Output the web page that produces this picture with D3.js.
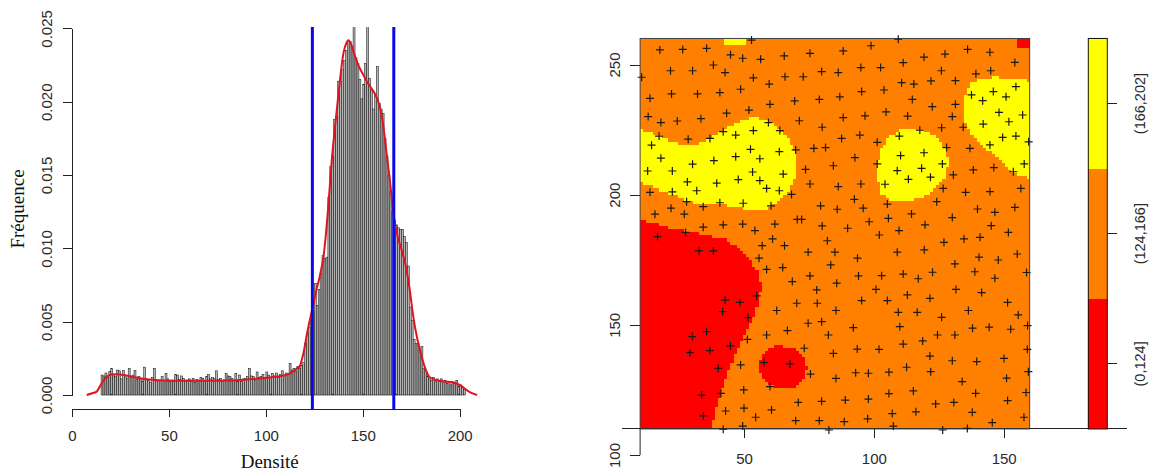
<!DOCTYPE html>
<html><head><meta charset="utf-8">
<script src="https://cdn.jsdelivr.net/npm/d3@7"></script>
<style>
body{margin:0;background:#fff}
svg{display:block}
.tk text{font-family:"Liberation Sans",Arial,sans-serif;font-size:15px;fill:#2a2a2a}
.tk path,.tk line{stroke:#222;stroke-width:1;shape-rendering:crispEdges}
.lg text{font-size:14.5px}
.ttl{font-family:"Liberation Serif","Times New Roman",serif;font-size:19px;fill:#111}
</style>
</head><body>
<svg id="c" width="1153" height="473"></svg>
<script>
// ---------------- data ----------------
const histFirstBin = 15; // left edge of the first bin (bin width 1)
const histFreq = [
.00136,.00130,.00150,.00120,.00160,.00182,.00140,.00125,.00170,.00165,
.00110,.00166,.00136,.00115,.00182,.00120,.00136,.00166,.00105,.00125,
.00110,.00095,.00190,.00110,.00100,.00085,.00120,.00182,.00095,.00100,
.00090,.00125,.00100,.00148,.00110,.00095,.00102,.00091,.00140,.00136,
.00105,.00130,.00114,.00095,.00102,.00110,.00095,.00114,.00085,.00105,
.00100,.00120,.00114,.00095,.00125,.00140,.00110,.00120,.00114,.00165,
.00105,.00114,.00090,.00102,.00148,.00130,.00125,.00114,.00100,.00148,
.00095,.00136,.00091,.00110,.00114,.00125,.00182,.00130,.00125,.00102,
.00157,.00120,.00125,.00140,.00110,.00157,.00136,.00120,.00148,.00130,
.00150,.00120,.00140,.00165,.00130,.00150,.00140,.00216,.00170,.00182,
.00160,.00195,.00180,.00200,.00220,.00350,.00420,.00460,.00530,.00570,
.00760,.00610,.00720,.00830,.00950,.00930,.00940,.01350,.01560,.01630,
.01880,.01900,.02140,.02140,.02220,.02280,.02350,.02420,.02410,.02380,
.02700,.02300,.02260,.02150,.02020,.02120,.02260,.02700,.02160,.02080,
.01950,.02050,.02240,.01990,.01950,.01920,.01750,.01630,.01500,.01390,
.01250,.01190,.01160,.01140,.01130,.01130,.01080,.01040,.00880,.00600,
.00510,.00380,.00350,.00350,.00310,.00330,.00180,.00170,.00130,.00110,
.00100,.00120,.00090,.00110,.00100,.00110,.00090,.00100,.00080,.00090,
.00070,.00090,.00080,.00100,.00060,.00070,.00050,.00040];
const densX = [7.6,10,12.7,15.3,17.9,20.5,23,28,33,38.5,45,50,60,70,76,85,92,102,108,112.5,
116,117.6,119.3,121.4,124,126,128,130,132,134,136,138,140,141.5,142.5,144,146,148,150,152,
154,156,158,160,162,164,166,168,170,172,174,176,178,180,182,184,186,190,194,198,201,204,206,209];
const densY = [0,0.0001,0.00023,0.0008,0.00125,0.0014,0.00141,0.00133,0.0012,0.00107,0.001,0.00098,0.00097,0.00097,0.00098,0.001,0.00107,0.0012,0.0013,0.00148,
0.0018,0.002,0.0028,0.0043,0.0059,0.0071,0.0082,0.0097,0.0125,0.016,0.0187,0.0212,0.0233,0.0240,0.0242,0.0239,0.0231,0.0224,0.0219,0.0214,
0.0210,0.0206,0.0200,0.0189,0.0168,0.0146,0.0122,0.0108,0.0099,0.0089,0.0074,0.0054,0.0039,0.0028,0.0019,0.0013,0.0011,0.00095,0.0009,0.0008,0.0006,0.0003,0.00015,0];
const cutValues = [124, 166];
const histXTicks = [0, 50, 100, 150, 200];
const histYTicks = [0, 0.005, 0.010, 0.015, 0.020, 0.025];
const histYLabels = ["0.000","0.005","0.010","0.015","0.020","0.025"];

const classLabels = ["(0,124]", "(124,166]", "(166,202]"];
const classColors = ["#FF0000", "#FF8000", "#FFFF00"];
const mapXTicks = [50, 100, 150];
const mapYTicks = [100, 150, 200, 250];
const mapExtentX = [10, 160];
const mapExtentY = [110, 260];
const mapCell = 1.2;
const mapAxisLine = [3, 197.4];

const yellowZones = [
 [[10.2,224.8],[16.4,222.9],[24.1,219.7],[33.0,219.7],[42.0,224.2],[47.2,228.0],[53.6,230.0],[58.7,228.7],[65.1,224.2],[69.0,218.4],[70.5,213.3],[69.6,206.9],[67.1,201.8],[62.6,197.3],[58.7,194.1],[52.3,194.1],[42.0,196.0],[33.0,196.0],[27.9,198.0],[21.5,200.5],[10.2,204.4],[9,204.4],[9,224.8]],
 [[42.7,261],[51,261],[51,257.2],[42.7,257.2]],
 [[110.0,224.8],[117.1,225.5],[122.9,222.9],[126.7,219.1],[128.4,213.3],[128.0,207.6],[125.4,203.7],[121.6,200.5],[117.1,198.6],[111.3,197.3],[106.8,197.3],[103.0,200.5],[101.5,205.6],[101.5,212.0],[103.0,217.8],[106.2,222.3]],
 [[139.6,244.3],[146.0,245.1],[153.7,244.7],[161,243.4],[161,206.3],[156.3,206.9],[152.4,209.5],[148.6,212.7],[144.7,216.5],[140.9,219.7],[137.6,222.9],[135.3,227.4],[134.4,232.5],[135.1,238.3],[137.0,242.1]]
];
const redZones = [
 [[9,190.3],[16.3,189.0],[22.8,186.7],[29.2,185.8],[36.9,183.9],[43.3,182.6],[47.8,180.0],[51.6,176.2],[54.9,171.1],[56.4,165.3],[55.9,158.3],[53.6,153.1],[51.0,148.0],[48.4,142.9],[45.9,136.5],[43.3,130.1],[40.7,122.4],[38.8,116.0],[36.9,109.0],[9,109.0]],
 [[55.5,134],[56.5,138],[59,141],[62.5,142],[67,141.6],[71,140],[73.5,137],[74.5,133.5],[73.5,129.5],[71,126.5],[67,125.2],[63,125.5],[59,127],[56.5,130]],
 [[155.5,261],[161,261],[161,257],[155.5,257]]
];

const samplePoints = [
[52.9,259.4],[17.6,255.6],[26.4,255.8],[35.6,256.2],[44.8,253.7],[49.5,252.4],[56.4,252.0],[65.5,253.3],[10.6,245.1],[21.7,247.6],[30.2,247.6],[38.2,249.8],[42.7,246.9],[53.6,244.9],[59.7,242.5],[65.8,245.3],[13.8,237.0],[22.1,238.7],[32.1,238.7],[40.7,239.2],[48.7,240.5],[60.0,234.7],[69.5,236.0],[13.1,230.0],[18.0,227.7],[24.3,228.3],[33.4,229.2],[43.3,231.3],[51.9,232.5],[59.4,227.7],[71.3,228.4],[17.3,222.5],[28.5,221.3],[36.9,221.6],[42.0,224.2],[46.8,222.9],[53.6,224.6],[63.8,224.6],[14.4,219.0],[18.0,214.0],[30.2,211.7],[38.4,213.1],[46.8,214.6],[52.5,217.4],[56.1,213.8],[63.6,216.5],[69.9,217.2],[12.9,209.1],[22.4,209.1],[53.3,208.7],[65.1,207.9],[28.2,204.9],[39.5,204.4],[47.8,205.8],[56.1,205.4],[13.8,200.9],[22.4,201.1],[31.8,201.5],[58.7,202.4],[63.6,201.5],[68.3,200.1],
[27.9,197.3],[34.3,195.4],[40.7,196.9],[49.7,196.7],[60.4,195.7],[15.7,192.5],[21.9,194.8],[27.0,192.5],[34.3,187.5],[42.0,188.4],[49.5,188.7],[54.2,186.2],[61.9,188.7],[70.5,190.5],[16.7,183.9],[27.5,185.5],[57.0,180.4],[61.0,183.0],[65.6,180.4],[32.7,178.4],[38.2,178.4],[55.8,175.6],[58.7,171.3],[64.9,172.0],[68.6,166.6],[54.9,161.1],[42.7,159.5],[48.4,158.6],[70.3,158.3],[41.8,155.1],[51.6,152.8],[62.6,155.5],[35.6,147.4],[66.7,147.8],[30.1,145.5],[58.7,146.1],[51.3,144.4],[29.2,139.3],[36.9,140.1],[44.8,141.9],[40.1,133.3],[48.7,134.6],[57.7,135.5],[67.7,135.0],[60.0,126.3],[49.9,125.0],[33.7,123.0],[41.1,123.7],[70.9,120.2],[42.9,116.9],[50.0,118.0],[60.6,117.3],[34.3,115.0],[54.5,114.5],[69.9,113.2],[42.0,109.9],[49.5,111.1],
[109.4,259.7],[75.4,254.3],[88.2,255.2],[98.9,257.2],[119.3,252.8],[127.4,254.0],[136.1,255.8],[144.7,254.7],[154.3,250.8],[72.8,245.3],[79.9,247.3],[86.3,246.9],[95.0,248.8],[102.6,248.8],[111.3,250.7],[126.0,247.6],[139.3,246.4],[145.0,247.6],[110.7,243.0],[115.4,242.5],[122.0,243.7],[131.4,243.8],[79.0,236.6],[86.9,237.6],[95.3,239.6],[103.9,240.2],[114.8,236.6],[122.5,233.8],[131.4,234.7],[137.6,238.3],[141.9,236.1],[146.0,239.6],[150.9,237.6],[154.7,241.5],[88.2,229.6],[96.6,230.3],[104.7,231.8],[113.0,230.2],[130.2,230.0],[80.1,225.9],[126.1,225.7],[134.4,225.9],[142.1,227.1],[148.2,231.6],[152.0,228.0],[157.3,230.6],[87.6,221.6],[94.6,222.9],[101.3,220.1],[109.8,222.5],[117.7,224.8],[149.6,222.0],[154.7,222.5],[159.6,220.3],[76.9,217.8],[81.4,218.1],[110.3,215.0],[119.3,216.1],[128.0,218.1],[137.0,217.8],[144.7,219.1],[92.7,214.2],[84.4,211.1],[73.7,209.7],[101.3,211.8],[109.0,209.2],[118.4,210.1],[126.4,211.8],[138.3,209.5],[146.2,210.4],[153.7,208.8],[157.9,211.8],[113.3,205.9],[121.8,206.7],[130.6,207.6],[75.4,204.1],[86.3,203.1],[95.0,204.1],[104.3,204.0],[126.7,202.4],[135.3,200.9],[144.7,201.2],[156.6,202.4],[92.5,198.2],
[79.5,195.7],[85.9,194.4],[95.9,194.8],[105.2,196.4],[114.5,192.6],[124.2,197.3],[130.2,191.2],[139.9,194.5],[146.6,193.2],[154.3,195.1],[72.2,190.5],[80.1,188.0],[89.9,187.1],[98.2,189.6],[105.6,190.9],[109.7,186.2],[119.7,188.4],[145.2,188.1],[151.8,185.5],[82.1,182.3],[102.1,184.5],[127.0,181.7],[134.7,183.0],[140.9,183.6],[74.7,177.9],[85.0,177.9],[93.7,175.6],[109.0,177.9],[119.4,178.8],[140.5,176.0],[147.9,174.9],[155.2,177.2],[83.4,173.0],[131.2,173.4],[138.9,170.4],[146.6,167.9],[158.8,170.1],[75.4,168.8],[85.7,166.0],[94.1,168.8],[103.0,168.9],[111.3,169.5],[117.1,167.7],[122.6,170.2],[78.0,163.4],[100.8,163.6],[112.9,161.5],[121.6,160.2],[131.6,163.6],[141.5,162.4],[78.2,158.3],[95.3,159.3],[105.2,159.3],[85.4,155.5],[109.4,154.8],[116.7,154.8],[126.1,152.9],[136.4,155.5],[151.5,158.6],[155.6,153.8],[74.7,150.6],[79.9,151.2],[92.1,148.9],[110.0,149.3],[124.5,146.1],[131.2,146.1],[138.0,148.7],[144.4,149.1],[152.7,148.3],[159.2,149.7],[82.5,146.1],[73.2,141.0],[84.4,139.0],[93.6,140.7],[102.0,140.6],[111.3,142.6],[118.8,143.8],[121.6,138.0],[130.2,136.2],[139.6,135.9],[150.1,137.1],[159.1,140.6],[75.6,131.1],[85.4,129.4],[93.0,131.6],[97.9,131.4],[105.8,131.8],[112.6,133.7],[121.9,132.0],[134.0,128.2],[151.1,129.5],[159.5,132.0],[79.9,120.6],[89.0,121.1],[97.9,121.5],[105.8,123.6],[115.2,124.6],[123.8,119.6],[130.8,120.2],[139.2,123.7],[151.5,120.9],[158.6,124.0],[79.0,113.2],[88.6,112.8],[97.6,113.9],[107.1,115.9],[116.2,116.6],[137.9,116.4],[145.6,112.4],[157.8,114.5],[82.7,109.6],[107.5,111.1],[126.5,109.6],[136.0,110.2]
];

// ---------------- layout ----------------
const svg = d3.select("#c");
const xH = d3.scaleLinear().domain([0, 200]).range([72, 459.7]);
const yH = d3.scaleLinear().domain([0, 0.025]).range([395, 28.4]);
const histTop = 27, histAxisY = 409;

svg.append("clipPath").attr("id","hclip").append("rect")
  .attr("x", 60).attr("y", histTop).attr("width", 430).attr("height", histAxisY - histTop);

const hg = svg.append("g").attr("clip-path","url(#hclip)");
hg.selectAll("rect.bar").data(histFreq).join("rect")
  .attr("class","bar")
  .attr("x", (d,i) => xH(histFirstBin + i))
  .attr("width", (d,i) => xH(histFirstBin + i + 1) - xH(histFirstBin + i))
  .attr("y", d => yH(d))
  .attr("height", d => yH(0) - yH(d))
  .attr("fill", "#b4b4b4").attr("stroke", "#1a1a1a").attr("stroke-width", 0.55);

hg.append("path")
  .datum(densX.map((x,i) => [x, densY[i]]))
  .attr("fill","none").attr("stroke","#e0141e").attr("stroke-width",2)
  .attr("d", d3.line().x(d => xH(d[0])).y(d => yH(d[1])).curve(d3.curveMonotoneX));

hg.selectAll("line.cut").data(cutValues).join("line")
  .attr("class","cut")
  .attr("x1", d => xH(d)).attr("x2", d => xH(d))
  .attr("y1", histTop).attr("y2", histAxisY)
  .attr("stroke","#0a0ae6").attr("stroke-width",3);

// axes (histogram)
const axYH = svg.append("g").attr("class","tk").attr("transform","translate(72,0)")
  .call(d3.axisLeft(yH).tickValues(histYTicks).tickFormat((d,i) => histYLabels[i]).tickSize(9).tickSizeOuter(0));
axYH.selectAll("text").attr("x",null).attr("dy","0.35em").attr("text-anchor","middle")
  .attr("transform","translate(-25.5,0) rotate(-90)");

const axXH = svg.append("g").attr("class","tk").attr("transform",`translate(0,${histAxisY})`)
  .call(d3.axisBottom(xH).tickValues(histXTicks).tickSize(8).tickSizeOuter(0).tickPadding(13));

svg.append("text").attr("class","ttl").attr("text-anchor","middle")
  .attr("transform","translate(24,209) rotate(-90)").text("Fréquence");
svg.append("text").attr("class","ttl").attr("text-anchor","middle")
  .attr("x", xH(102)).attr("y", 468).text("Densité");

// ---------------- map ----------------
const xM = d3.scaleLinear().domain([50, 150]).range([744, 1003.7]);
const yM = d3.scaleLinear().domain([100, 250]).range([455, 64.5]);
const colorOf = d3.scaleOrdinal().domain(classLabels).range(classColors);

function classify(px, py) {
  for (const z of redZones) if (d3.polygonContains(z, [px, py])) return classLabels[0];
  for (const z of yellowZones) if (d3.polygonContains(z, [px, py])) return classLabels[2];
  return classLabels[1];
}
const nCol = Math.round((mapExtentX[1]-mapExtentX[0]) / mapCell);
const nRow = Math.round((mapExtentY[1]-mapExtentY[0]) / mapCell);
const runs = [];
for (let r = 0; r < nRow; r++) {
  const y0 = mapExtentY[0] + r * mapCell, y1 = Math.min(y0 + mapCell, mapExtentY[1]);
  let start = 0, cur = classify(mapExtentX[0] + mapCell/2, y0 + mapCell/2);
  for (let c = 1; c <= nCol; c++) {
    const cls = c < nCol ? classify(mapExtentX[0] + (c+0.5)*mapCell, y0 + mapCell/2) : null;
    if (cls !== cur) {
      runs.push({x0: mapExtentX[0] + start*mapCell, x1: Math.min(mapExtentX[0] + c*mapCell, mapExtentX[1]), y0, y1, cls: cur});
      start = c; cur = cls;
    }
  }
}
const mg = svg.append("g");
mg.selectAll("rect").data(runs).join("rect")
  .attr("x", d => xM(d.x0)).attr("width", d => xM(d.x1) - xM(d.x0))
  .attr("y", d => yM(d.y1)).attr("height", d => yM(d.y0) - yM(d.y1))
  .attr("fill", d => colorOf(d.cls)).attr("shape-rendering","crispEdges");

// y axis (map)
const axYM = svg.append("g").attr("class","tk").attr("transform",`translate(${xM(mapExtentX[0])},0)`)
  .call(d3.axisLeft(yM).tickValues(mapYTicks).tickSize(10).tickSizeOuter(0));
axYM.selectAll("text").attr("x",null).attr("dy","0.35em").attr("text-anchor","middle")
  .attr("transform","translate(-25.5,0) rotate(-90)");
axYM.select(".domain").remove();
svg.append("line").attr("class","tk")
  .attr("x1", xM(mapExtentX[0])).attr("x2", xM(mapExtentX[0]))
  .attr("y1", yM(mapYTicks[0])).attr("y2", yM(mapExtentY[0]))
  .attr("stroke","#222");

// x axis (map)
const axXM = svg.append("g").attr("class","tk").attr("transform",`translate(0,${yM(mapExtentY[0])})`)
  .call(d3.axisBottom(xM).tickValues(mapXTicks).tickSize(9).tickSizeOuter(0).tickPadding(15));
axXM.select(".domain").remove();
svg.append("line")
  .attr("x1", xM(mapAxisLine[0])).attr("x2", xM(mapAxisLine[1]))
  .attr("y1", yM(mapExtentY[0])).attr("y2", yM(mapExtentY[0]))
  .attr("stroke","#222").attr("shape-rendering","crispEdges");

// frame
svg.append("rect")
  .attr("x", xM(mapExtentX[0])).attr("y", yM(mapExtentY[1]))
  .attr("width", xM(mapExtentX[1]) - xM(mapExtentX[0]))
  .attr("height", yM(mapExtentY[0]) - yM(mapExtentY[1]))
  .attr("fill","none").attr("stroke","#444").attr("stroke-width",1);

// points
svg.append("g").selectAll("path").data(samplePoints).join("path")
  .attr("transform", d => `translate(${xM(d[0])},${yM(d[1])})`)
  .attr("d","M-4,0H4M0,-4V4")
  .attr("stroke","#1a1a1a").attr("stroke-width",1.2).attr("fill","none");

// ---------------- legend ----------------
const legX0 = 1088.3, legX1 = 1107.3;
const yL = d3.scaleBand().domain(classLabels).range([yM(mapExtentY[0]), yM(mapExtentY[1])]);
svg.append("g").selectAll("rect").data(classLabels).join("rect")
  .attr("x", legX0).attr("width", legX1 - legX0)
  .attr("y", d => yL(d)).attr("height", yL.bandwidth())
  .attr("fill", d => colorOf(d)).attr("shape-rendering","crispEdges");
svg.append("rect").attr("x", legX0).attr("width", legX1 - legX0)
  .attr("y", yM(mapExtentY[1])).attr("height", yM(mapExtentY[0]) - yM(mapExtentY[1]))
  .attr("fill","none").attr("stroke","#111").attr("stroke-width",1);
const axL = svg.append("g").attr("class","tk lg").attr("transform",`translate(${legX1},0)`)
  .call(d3.axisRight(yL).tickSize(10).tickSizeOuter(0));
axL.select(".domain").remove();
axL.selectAll("text").attr("x",null).attr("dy","0.35em").attr("text-anchor","middle")
  .attr("transform","translate(33,0) rotate(-90)");
</script>
</body></html>
